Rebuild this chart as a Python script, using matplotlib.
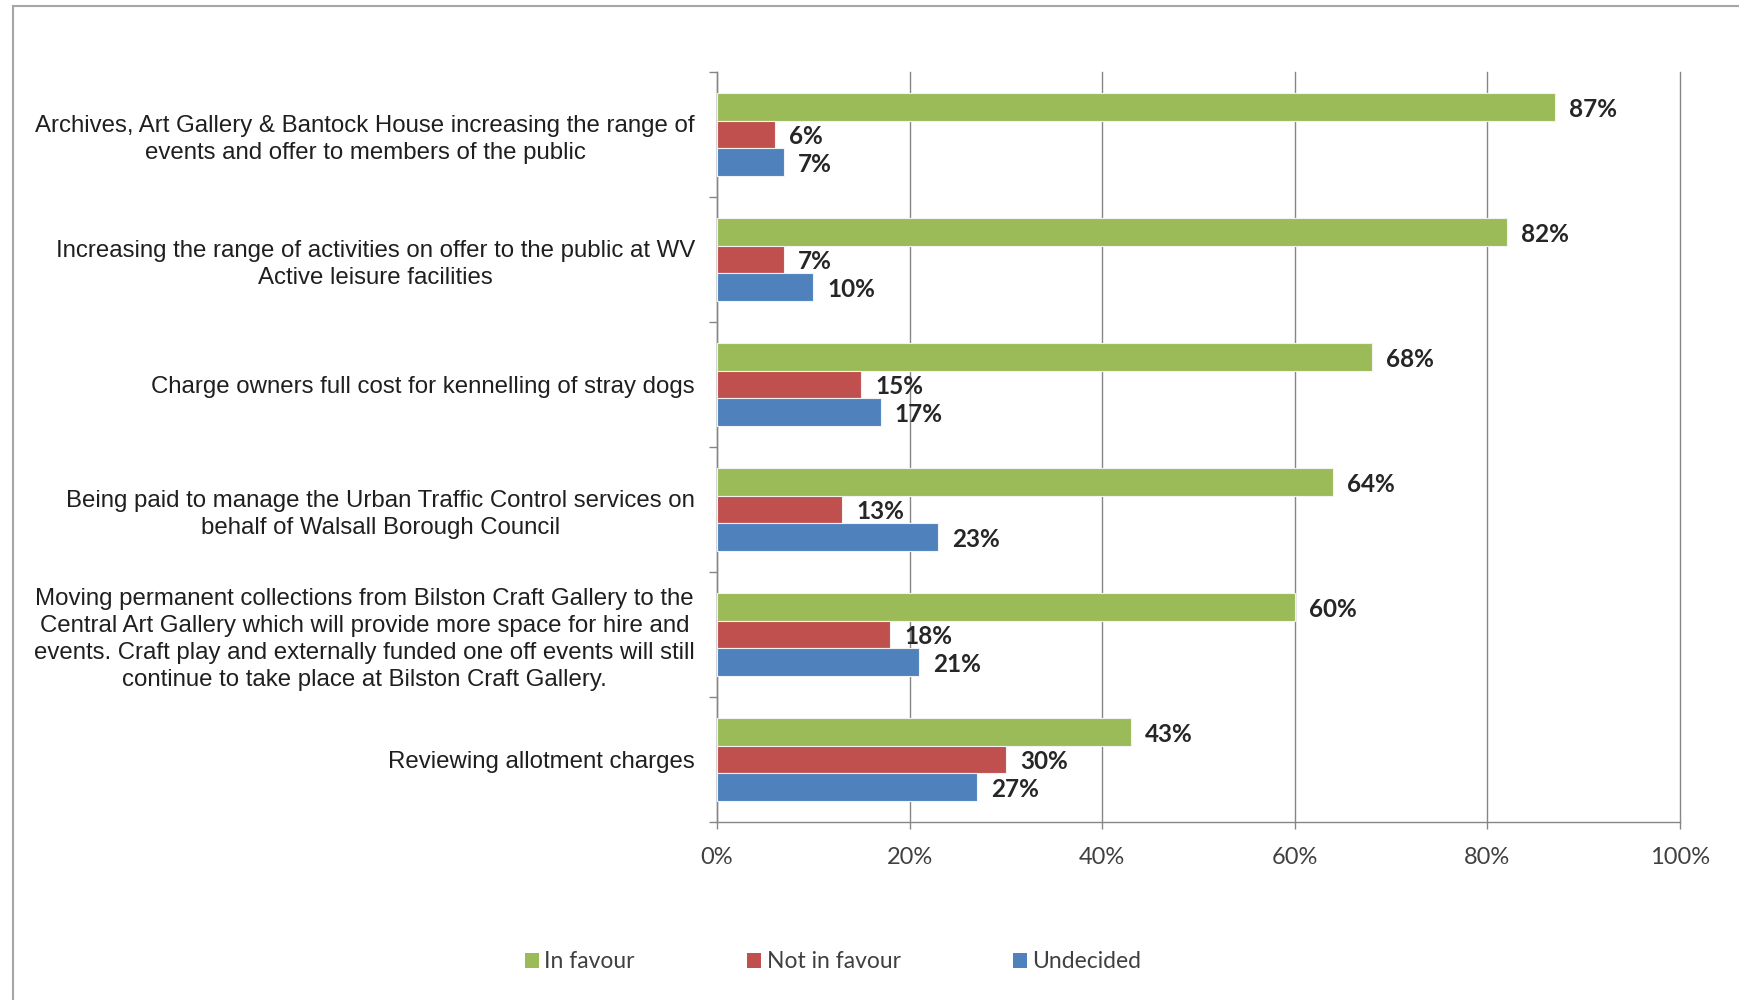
import numpy as np
import matplotlib
matplotlib.use("Agg")
import matplotlib.pyplot as plt
from matplotlib.patches import Rectangle, Patch

# survey results, one entry per proposal (top to bottom)
categories = [
    "Archives, Art Gallery & Bantock House increasing the range of\nevents and offer to members of the public",
    "Increasing the range of activities on offer to the public at WV\nActive leisure facilities",
    "Charge owners full cost for kennelling of stray dogs",
    "Being paid to manage the Urban Traffic Control services on\nbehalf of Walsall Borough Council",
    "Moving permanent collections from Bilston Craft Gallery to the\n"
    "Central Art Gallery which will provide more space for hire and\n"
    "events. Craft play and externally funded one off events will still\n"
    "continue to take place at Bilston Craft Gallery.",
    "Reviewing allotment charges",
]
in_favour = [87, 82, 68, 64, 60, 43]
not_in_favour = [6, 7, 15, 13, 18, 30]
undecided = [7, 10, 17, 23, 21, 27]

series_names = ["In favour", "Not in favour", "Undecided"]
colors = ["#9BBB59", "#C0504D", "#4F81BD"]

W, H = 1739, 1000
fig = plt.figure(figsize=(W / 100, H / 100), dpi=100)
ax = fig.add_axes([717 / W, 1 - 822 / H, (1680 - 717) / W, (822 - 72) / H])

y = np.arange(len(categories))
bar_h = 0.22
grid_col = "#868686"
text_col = "#1F1F1F"

for k, (vals, col) in enumerate(zip([in_favour, not_in_favour, undecided], colors)):
    pos = y + (k - 1) * bar_h
    ax.barh(pos, vals, height=bar_h, color=col, edgecolor="#F2F2F2", linewidth=0.8, zorder=3)
    for p, v in zip(pos, vals):
        ax.annotate("{}%".format(v), (v, p), xytext=(10, -1.5), textcoords="offset points",
                    ha="left", va="center", fontsize=17.5, fontweight="bold",
                    family="Lato", color="#262626", zorder=4)

ax.set_xlim(0, 100)
ax.set_ylim(len(categories) - 0.5, -0.5)

ax.set_xticks(np.arange(0, 101, 20))
ax.set_xticklabels(["{}%".format(t) for t in range(0, 101, 20)], family="Lato",
                   fontsize=17, color="#404040")
ax.xaxis.grid(True, color=grid_col, linewidth=1, zorder=0)
for gl in ax.get_xgridlines():
    gl.set_clip_on(False)
ax.tick_params(axis="x", length=5, width=1, color=grid_col, pad=13)

ax.set_yticks(y)
ax.set_yticklabels(categories, family="Liberation Sans", fontsize=17.3, color=text_col,
                   linespacing=1.28)
for t in ax.get_yticklabels():
    t.set_multialignment("center")
ax.tick_params(axis="y", which="major", length=0, pad=16)
ax.set_yticks(np.arange(-0.5, len(categories)), minor=True)
ax.tick_params(axis="y", which="minor", length=6, width=1, color=grid_col)

for side in ["top", "right"]:
    ax.spines[side].set_visible(False)
for side in ["left", "bottom"]:
    ax.spines[side].set_color(grid_col)
    ax.spines[side].set_linewidth(1)

handles = [Patch(facecolor=c, edgecolor="none") for c in colors]
fig.legend(handles, series_names, loc="center left", bbox_to_anchor=(525 / W, 1 - 962 / H),
           ncol=3, frameon=False, prop={"family": "Lato", "size": 16.5},
           handlelength=0.6, handleheight=0.6, handletextpad=0.25,
           columnspacing=4.9, labelcolor="#404040", borderpad=0, borderaxespad=0)

# light outer border of the chart area
fig.patches.append(Rectangle((13 / W, -0.05), 1.1, 1 - 6 / H + 0.05, transform=fig.transFigure,
                             fill=False, edgecolor="#A6A6A6", linewidth=1.5))

fig.savefig("out.png", dpi=100)
